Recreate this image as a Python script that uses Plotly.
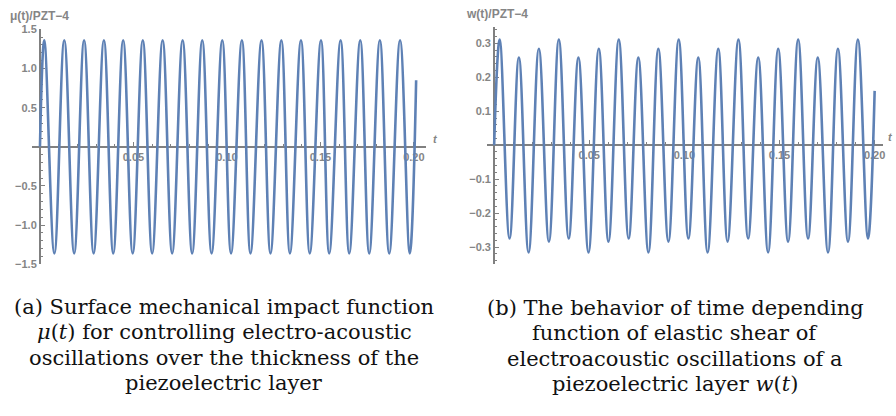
import plotly.graph_objects as go

# ---------------- data ----------------
# (a) mu(t): start, alternating peak/trough extrema, end point
mu_t = [0.0,
        0.0023, 0.0077, 0.0130, 0.0183, 0.0236, 0.0287, 0.0342, 0.0392,
        0.0445, 0.0496, 0.0550, 0.0600, 0.0656, 0.0707, 0.0763, 0.0814,
        0.0868, 0.0918, 0.0975, 0.1022, 0.1080, 0.1126, 0.1185, 0.1233,
        0.1291, 0.1337, 0.1396, 0.1443, 0.1503, 0.1547, 0.1608, 0.1654,
        0.1713, 0.1761, 0.1818, 0.1868, 0.1926, 0.1978,
        0.2012]
mu_val = [0.0,
          1.36, -1.36, 1.36, -1.36, 1.36, -1.36, 1.36, -1.36,
          1.36, -1.36, 1.36, -1.36, 1.36, -1.36, 1.36, -1.36,
          1.36, -1.36, 1.36, -1.36, 1.36, -1.36, 1.36, -1.36,
          1.36, -1.36, 1.36, -1.36, 1.36, -1.36, 1.36, -1.36,
          1.36, -1.36, 1.36, -1.36, 1.36, -1.36,
          0.85]

# (b) w(t): start, alternating peak/trough extrema, end point
w_t = [0.0,
       0.0029, 0.0081, 0.0130, 0.0181, 0.0235, 0.0288, 0.0340, 0.0392,
       0.0443, 0.0496, 0.0550, 0.0601, 0.0655, 0.0707, 0.0758, 0.0811,
       0.0863, 0.0916, 0.0970, 0.1021, 0.1073, 0.1122, 0.1178, 0.1227,
       0.1284, 0.1335, 0.1388, 0.1440, 0.1493, 0.1545, 0.1598, 0.1650,
       0.1701, 0.1755, 0.1807, 0.1860, 0.1912, 0.1965,
       0.2000]
w_val = [0.0,
         0.311, -0.275, 0.258, -0.316, 0.284, -0.284, 0.311, -0.275,
         0.258, -0.316, 0.284, -0.284, 0.311, -0.275, 0.258, -0.316,
         0.284, -0.284, 0.311, -0.275, 0.258, -0.316, 0.284, -0.284,
         0.311, -0.275, 0.258, -0.316, 0.284, -0.284, 0.311, -0.275,
         0.258, -0.316, 0.284, -0.284, 0.311, -0.275,
         0.16]

x_tickvals = [0.05, 0.10, 0.15, 0.20]
x_ticktext = ["0.05", "0.10", "0.15", "0.20"]
mu_tickvals = [-1.5, -1.0, -0.5, 0.5, 1.0, 1.5]
mu_ticktext = ["\u22121.5", "\u22121.0", "\u22120.5", "0.5", "1.0", "1.5"]
w_tickvals = [-0.3, -0.2, -0.1, 0.1, 0.2, 0.3]
w_ticktext = ["\u22120.3", "\u22120.2", "\u22120.1", "0.1", "0.2", "0.3"]

cap_a = ["(a) Surface mechanical impact function",
         "<i>\u03bc</i>(<i>t</i>) for controlling electro-acoustic",
         "oscillations over the thickness of the",
         "piezoelectric layer"]
cap_b = ["(b) The behavior of time depending",
         "function of elastic shear of",
         "electroacoustic oscillations of a",
         "piezoelectric layer <i>w</i>(<i>t</i>)"]

# ---------------- layout geometry ----------------
W, H = 896, 416
LINE = "#5E81B5"
AX = "#808080"
TXT = "#858585"

L_XD = [32 / W, 427 / W]
L_XR = [-0.0043, 0.2065]
L_YD = [1 - 266 / H, 1 - 24 / H]
L_YR = [-1.5, 1.5]

R_XD = [488 / W, 885 / W]
R_XR = [-0.0038, 0.2044]
R_YD = [1 - 266 / H, 1 - 22 / H]
R_YR = [-0.351, 0.347]


def zero_pos(dom, rng):
    return dom[0] + (0 - rng[0]) / (rng[1] - rng[0]) * (dom[1] - dom[0])


tickfont = dict(family="Liberation Sans, Arial, sans-serif", size=11, color=TXT, weight=700)

fig = go.Figure()
fig.add_trace(go.Scatter(x=mu_t, y=mu_val, mode="lines",
                         line=dict(color=LINE, width=2.6, shape="spline", smoothing=1.1),
                         xaxis="x", yaxis="y", showlegend=False, hoverinfo="skip"))
fig.add_trace(go.Scatter(x=w_t, y=w_val, mode="lines",
                         line=dict(color=LINE, width=2.6, shape="spline", smoothing=1.1),
                         xaxis="x2", yaxis="y2", showlegend=False, hoverinfo="skip"))


def xax(dom, rng, ydom, yrng):
    return dict(domain=dom, range=rng, anchor="free", position=zero_pos(ydom, yrng),
                showline=True, linecolor=AX, linewidth=2, showgrid=False, zeroline=False,
                ticks="inside", ticklen=4, tickwidth=1, tickcolor=AX,
                tickvals=x_tickvals, ticktext=x_ticktext, tickfont=tickfont,
                minor=dict(ticks="inside", dtick=0.01, tick0=0, ticklen=2, tickcolor=AX),
                layer="below traces", fixedrange=True)


def yax(dom, rng, xdom, xrng, tv, tt, mdt):
    return dict(domain=dom, range=rng, anchor="free", position=zero_pos(xdom, xrng),
                showline=True, linecolor=AX, linewidth=2, showgrid=False, zeroline=False,
                ticks="inside", ticklen=4, tickwidth=1, tickcolor=AX,
                tickvals=tv, ticktext=tt, tickfont=tickfont,
                minor=dict(ticks="inside", dtick=mdt, tick0=0, ticklen=2, tickcolor=AX),
                layer="below traces", fixedrange=True)


fig.update_layout(
    width=W, height=H, margin=dict(l=0, r=0, t=0, b=0),
    paper_bgcolor="white", plot_bgcolor="white",
    xaxis=xax(L_XD, L_XR, L_YD, L_YR),
    yaxis=yax(L_YD, L_YR, L_XD, L_XR, mu_tickvals, mu_ticktext, 0.1),
    xaxis2=xax(R_XD, R_XR, R_YD, R_YR),
    yaxis2=yax(R_YD, R_YR, R_XD, R_XR, w_tickvals, w_ticktext, 0.02),
)

labfont = dict(family="Liberation Sans, Arial, sans-serif", size=12, color=TXT, weight=700)
tfont = dict(family="Liberation Sans, Arial, sans-serif", size=11, color=TXT, weight=700)
ann = [
    dict(text="\u03bc(t)/PZT\u22124", xref="paper", yref="paper", x=8 / W, y=1 - 10 / H,
         xanchor="left", yanchor="middle", showarrow=False, font=labfont),
    dict(text="w(t)/PZT\u22124", xref="paper", yref="paper", x=465 / W, y=1 - 8 / H,
         xanchor="left", yanchor="middle", showarrow=False, font=labfont),
    dict(text="<i>t</i>", xref="x", yref="y", x=L_XR[1], y=0, xanchor="left", yanchor="bottom",
         xshift=5, showarrow=False, font=tfont),
    dict(text="<i>t</i>", xref="x2", yref="y2", x=R_XR[1], y=0, xanchor="left", yanchor="bottom",
         xshift=3, showarrow=False, font=tfont),
]
capfont = dict(family="DejaVu Serif, serif", size=21, color="#111111")
cap_y = [310, 336, 362, 388]
for i, line in enumerate(cap_a):
    ann.append(dict(text=line, xref="paper", yref="paper", x=225 / W, y=1 - cap_y[i] / H,
                    xanchor="center", yanchor="middle", showarrow=False, font=capfont))
for i, line in enumerate(cap_b):
    ann.append(dict(text=line, xref="paper", yref="paper", x=677 / W, y=1 - (cap_y[i] + 1) / H,
                    xanchor="center", yanchor="middle", showarrow=False, font=capfont))
fig.update_layout(annotations=ann)

fig.write_html("out.html", config={"displayModeBar": False},
               post_script="document.body.style.margin='0';")
